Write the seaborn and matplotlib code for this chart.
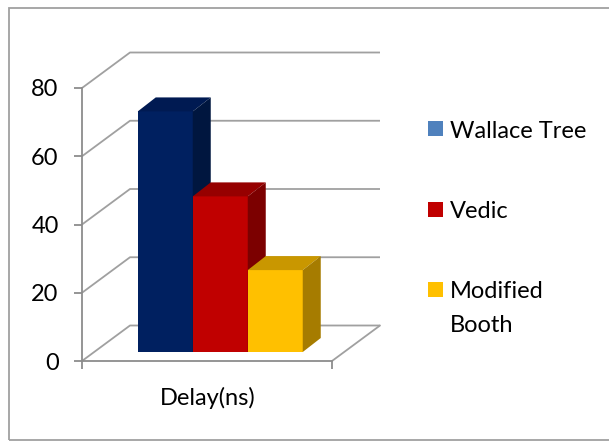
import matplotlib
matplotlib.use("Agg")
import matplotlib.pyplot as plt
import seaborn as sns
import pandas as pd
from matplotlib.transforms import ScaledTranslation
from matplotlib.patches import Polygon, Rectangle

# ---- data ----
category = ["Delay(ns)"]
methods = ["Wallace Tree", "Vedic", "Modified Booth"]
delay_values = [70.5, 45.6, 24.0]
legend_labels = ["Wallace Tree", "Vedic", "Modified\nBooth"]
y_ticks = [0, 20, 40, 60, 80]

front_colors = ["#002060", "#C00000", "#FFC000"]
top_colors = ["#001A52", "#960000", "#C99700"]
side_colors = ["#00163F", "#7C0000", "#A67C00"]
legend_colors = ["#4F81BD", "#C00000", "#FFC000"]

df = pd.DataFrame({"metric": category * len(methods),
                   "method": methods,
                   "delay": delay_values})

sns.set_style("white")
plt.rcParams["font.family"] = ["Lato", "DejaVu Sans"]
FS = 17

W, H = 609, 442
fig = plt.figure(figsize=(W / 100, H / 100), dpi=100)
ax = fig.add_axes([82 / W, 81 / H, 250 / W, 273 / H])

sns.barplot(data=df, x="metric", y="delay", hue="method", hue_order=methods,
            palette=front_colors, width=0.66, saturation=1, legend=False,
            ax=ax, linewidth=0)

XL0, XL1 = -0.505, 0.495
ax.set_xlim(XL0, XL1)
ax.set_ylim(0, 80)
ppx = 250 / (XL1 - XL0)      # pixels per x unit
ppy = 273 / 80               # pixels per y unit

grid_c = "#A0A0A0"
axis_c = "#8C8C8C"

# back wall / floor grid (pseudo 3D)
DX, DY = 48 / ppx, 35.5 / ppy
for v in y_ticks:
    ax.plot([XL0, XL0 + DX, XL1 + DX], [v, v + DY, v + DY], color=grid_c,
            lw=1.3, clip_on=False, zorder=1, solid_capstyle="butt")
ax.plot([XL1, XL1 + DX], [0, DY], color=grid_c, lw=1.3, clip_on=False, zorder=1)

# bars offset into depth, with top and side faces
bar_tr = ax.transData + ScaledTranslation(12 / 100, 9 / 100, fig.dpi_scale_trans)
ddx, ddy = 18 / ppx, 14 / ppy
bars = list(ax.patches)
for i, p in enumerate(bars):
    p.set_transform(bar_tr)
    p.set_clip_on(False)
    p.set_zorder(3 + i)
    x, y0, w, h = p.get_x(), p.get_y(), p.get_width(), p.get_height()
    top = Polygon([(x, y0 + h), (x + w, y0 + h), (x + w + ddx, y0 + h + ddy),
                   (x + ddx, y0 + h + ddy)], closed=True, facecolor=top_colors[i],
                  edgecolor="none", transform=bar_tr, clip_on=False, zorder=3 + i + 0.1)
    side = Polygon([(x + w, y0), (x + w + ddx, y0 + ddy), (x + w + ddx, y0 + h + ddy),
                    (x + w, y0 + h)], closed=True, facecolor=side_colors[i],
                   edgecolor="none", transform=bar_tr, clip_on=False, zorder=3 + i + 0.1)
    ax.add_patch(top)
    ax.add_patch(side)

# axes styling
for s in ["top", "right"]:
    ax.spines[s].set_visible(False)
for s in ["left", "bottom"]:
    ax.spines[s].set_color(axis_c)
    ax.spines[s].set_linewidth(1.3)
ax.set_yticks(y_ticks)
ax.tick_params(axis="y", length=5.8, width=1.3, color=axis_c, pad=11,
               labelsize=FS, labelcolor="black", left=True)
ax.set_xticks([0])
ax.set_xticklabels(category)
ax.set_xticks([XL0, XL1], minor=True)
ax.tick_params(axis="x", which="major", length=0, pad=19, labelsize=FS,
               labelcolor="black")
ax.tick_params(axis="x", which="minor", length=5.8, width=1.3, color=axis_c,
               bottom=True)
ax.set_xlabel("")
ax.set_ylabel("")
ax.grid(False)

# legend (manual, first-line aligned like reference)
sq = 15
for i, (lab, col) in enumerate(zip(legend_labels, legend_colors)):
    cap_top = 121 + i * 80.5
    fig.add_artist(Rectangle((428 / W, 1 - (cap_top + sq) / H), sq / W, sq / H,
                             transform=fig.transFigure, facecolor=col,
                             edgecolor="none"))
    for k, line in enumerate(lab.split("\n")):
        fig.text(450 / W, 1 - (cap_top + 16.5 + k * 33) / H, line, fontsize=FS,
                 va="baseline", ha="left", color="black")

# outer frame
fig.add_artist(Rectangle((9 / W, 2 / H), 700 / W, 432 / H, transform=fig.transFigure,
                         facecolor="none", edgecolor="#A0A0A0", lw=1.3))

fig.savefig("out.png", dpi=100)
